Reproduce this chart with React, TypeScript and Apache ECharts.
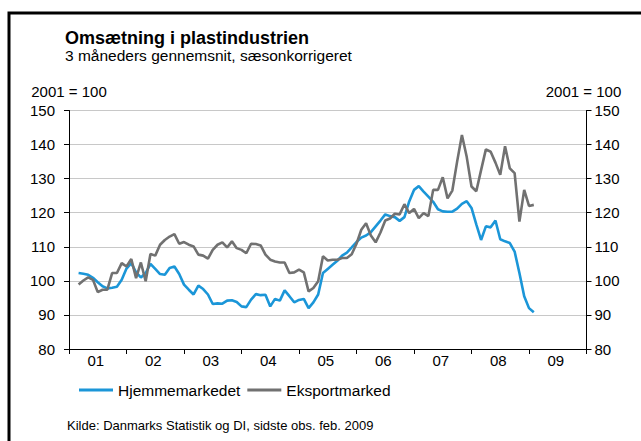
import React, { useEffect, useRef } from 'react';
import * as echarts from 'echarts';

const FONT = '"Liberation Sans", Arial, Helvetica, sans-serif';

// Year labels on the x axis
const yearLabels = ['01', '02', '03', '04', '05', '06', '07', '08', '09'];

// Monthly categories Jan 2001 .. Jan 2010 (last one closes the axis)
const months: string[] = [];
yearLabels.forEach((y) => {
  for (let m = 1; m <= 12; m++) months.push(`20${y}-${m < 10 ? '0' + m : m}`);
});
months.push('2010-01');

// First observation: March 2001 (index 2), last: Feb 2009
const firstIndex = 2;

const hjemmemarkedet = [
  102.3, 102.1, 101.8, 100.9, 99.6, 98.4, 97.8, 98.0, 98.3, 100.3,
  103.6, 105.2, 102.5, 101.0, 102.3, 105.0, 103.5, 102.0, 101.8, 103.8, 104.2, 102.0,
  98.9, 97.4, 96.0, 98.6, 97.6, 96.0, 93.2, 93.4, 93.3, 94.2, 94.3, 93.8,
  92.5, 92.3, 94.5, 96.1, 95.8, 95.9, 92.5, 94.7, 94.2, 97.2, 95.5, 93.7,
  94.4, 94.7, 92.0, 93.7, 96.0, 102.3, 103.5, 104.7, 105.9, 107.4, 108.3, 109.8,
  111.4, 112.7, 113.3, 114.3, 116.0, 117.7, 119.5, 119.0, 118.7, 117.6, 118.7, 123.3,
  126.7, 127.8, 126.2, 124.7, 123.2, 121.0, 120.4, 120.3, 120.3, 121.2, 122.6, 123.4,
  121.4, 116.6, 112.0, 116.0, 115.7, 117.7, 112.2, 111.6, 111.1, 108.6, 102.3, 95.5,
  92.0, 90.8,
];

const eksportmarked = [
  98.9, 100.1, 101.0, 100.3, 96.7, 97.4, 97.4, 102.3, 102.3, 105.2,
  104.2, 106.4, 100.8, 105.4, 99.9, 107.9, 107.4, 110.6, 112.0, 113.0, 113.7, 110.9,
  111.4, 110.6, 110.1, 107.7, 107.4, 106.5, 109.1, 110.6, 111.3, 109.8, 111.6, 109.6,
  109.1, 108.1, 110.9, 110.8, 110.4, 107.7, 106.2, 105.7, 105.4, 105.4, 102.3, 102.5,
  103.3, 102.5, 96.9, 97.9, 99.9, 107.2, 106.0, 106.2, 106.2, 106.7, 106.7, 107.8,
  110.9, 115.0, 116.9, 113.3, 111.3, 114.2, 117.7, 118.3, 119.7, 119.5, 122.5, 119.9,
  121.1, 118.4, 119.9, 119.0, 126.7, 126.7, 130.4, 124.2, 126.5, 135.0, 142.8, 136.4,
  127.7, 126.3, 132.5, 138.6, 137.9, 134.7, 131.1, 139.5, 133.0, 131.6, 117.4, 126.7,
  122.0, 122.3,
];

const yTicks = { min: 80, max: 150, interval: 10 };

const pad = (vals: number[]) => {
  const out: (number | null)[] = [];
  for (let i = 0; i < firstIndex; i++) out.push(null);
  return out.concat(vals);
};

export default function App() {
  const ref = useRef<HTMLDivElement>(null);
  useEffect(() => {
    const chart = echarts.init(ref.current!, null, { renderer: 'svg' });
    const yAxisBase = {
      type: 'value',
      min: yTicks.min,
      max: yTicks.max,
      interval: yTicks.interval,
      name: '2001 = 100',
      nameLocation: 'end',
      nameGap: 12,
      nameTextStyle: { color: '#000', fontSize: 15, fontFamily: FONT, align: 'center' },
      axisLine: { show: true, lineStyle: { color: '#000', width: 1 } },
      axisTick: { show: true, length: 5, lineStyle: { color: '#000', width: 1 } },
    };
    chart.setOption({
      animation: false,
      backgroundColor: '#ffffff',
      textStyle: { fontFamily: FONT },
      grid: { left: 69, right: 54.5, top: 110.5, bottom: 92 },
      xAxis: {
        type: 'category',
        data: months,
        boundaryGap: false,
        axisLine: { lineStyle: { color: '#000', width: 1 } },
        axisTick: {
          interval: (i: number) => i % 12 === 0,
          length: 5,
          lineStyle: { color: '#000', width: 1 },
        },
        axisLabel: {
          interval: (i: number) => i % 12 === 6,
          formatter: (v: string) => v.slice(2, 4),
          color: '#000',
          fontSize: 15,
          fontFamily: FONT,
          margin: 4,
          padding: [0, 4, 0, 0],
        },
        splitLine: { show: false },
      },
      yAxis: [
        {
          ...yAxisBase,
          position: 'left',
          axisLabel: { color: '#000', fontSize: 15, fontFamily: FONT, margin: 14 },
          splitLine: { show: true, lineStyle: { color: '#c8c8c8', width: 1 } },
        },
        {
          ...yAxisBase,
          position: 'right',
          nameTextStyle: { color: '#000', fontSize: 15, fontFamily: FONT, align: 'center', padding: [0, 6, 0, 0] },
          axisLabel: { color: '#000', fontSize: 15, fontFamily: FONT, margin: 8 },
          splitLine: { show: false },
        },
      ],
      legend: {
        left: 74,
        top: 377,
        icon: 'rect',
        itemWidth: 34,
        itemHeight: 3,
        itemGap: 7,
        textStyle: { color: '#000', fontSize: 15.5, fontFamily: FONT, lineHeight: 16 },
        data: ['Hjemmemarkedet', 'Eksportmarked'],
      },
      series: [
        {
          name: 'Hjemmemarkedet',
          type: 'line',
          yAxisIndex: 0,
          symbol: 'none',
          color: '#1b96d8',
          lineStyle: { color: '#1b96d8', width: 2.6 },
          data: pad(hjemmemarkedet),
        },
        {
          name: 'Eksportmarked',
          type: 'line',
          yAxisIndex: 0,
          symbol: 'none',
          color: '#717171',
          lineStyle: { color: '#717171', width: 2.6 },
          data: pad(eksportmarked),
        },
      ],
      graphic: [
        {
          type: 'rect',
          silent: true,
          shape: { x: 9, y: 13, width: 700, height: 500 },
          style: { fill: 'transparent', stroke: '#000', lineWidth: 3 },
        },
        {
          type: 'text',
          x: 65,
          y: 37.5,
          style: {
            text: 'Omsætning i plastindustrien',
            fontSize: 18,
            fontWeight: 'bold',
            fontFamily: FONT,
            fill: '#000',
            verticalAlign: 'middle',
          },
        },
        {
          type: 'text',
          x: 65,
          y: 55.5,
          style: {
            text: '3 måneders gennemsnit, sæsonkorrigeret',
            fontSize: 15.5,
            fontFamily: FONT,
            fill: '#000',
            verticalAlign: 'middle',
          },
        },
        {
          type: 'text',
          x: 67,
          y: 425,
          style: {
            text: 'Kilde: Danmarks Statistik og DI, sidste obs. feb. 2009',
            fontSize: 13,
            fontFamily: FONT,
            fill: '#000',
            verticalAlign: 'middle',
          },
        },
      ],
    });
    return () => chart.dispose();
  }, []);
  return (
    <div
      ref={ref}
      style={{ position: 'absolute', left: 0, top: 0, width: 641, height: 441, background: '#fff' }}
    />
  );
}
